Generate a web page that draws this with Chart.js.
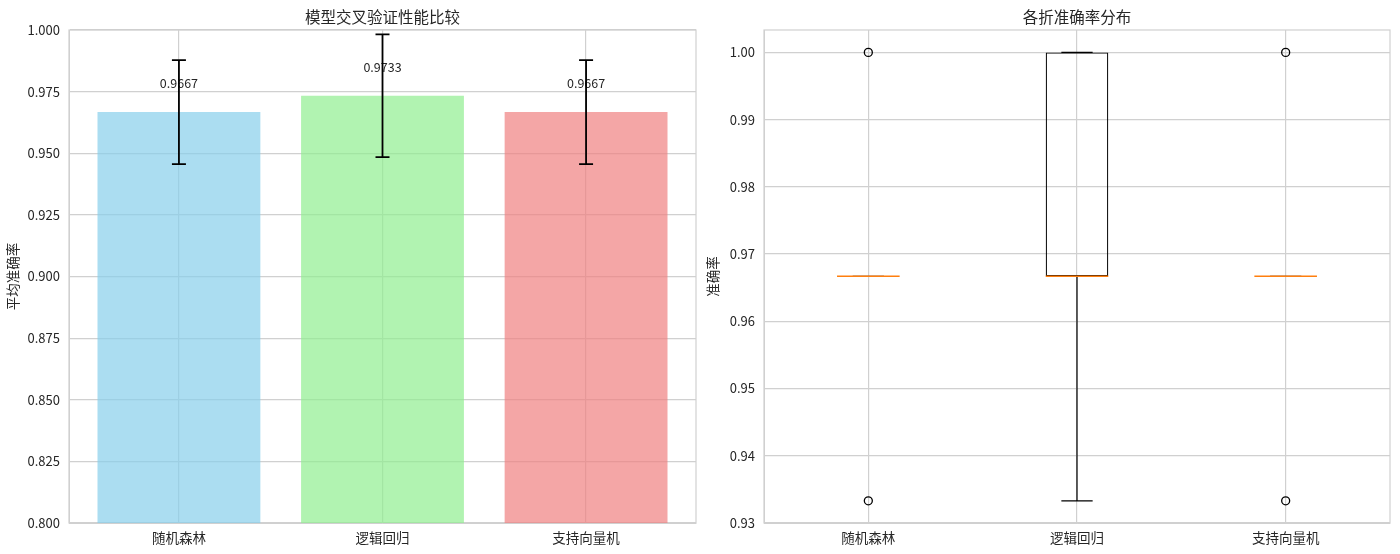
<!DOCTYPE html>
<html>
<head>
<meta charset="utf-8">
<script src="https://cdn.jsdelivr.net/npm/chart.js@4.4.1/dist/chart.umd.min.js"></script>
<style>
  body { margin: 0; background: #fff; }
  .panel { position: absolute; top: 0; width: 700px; height: 554px; }
</style>
</head>
<body>
<div class="panel" style="left:0"><canvas id="barChart"></canvas></div>
<div class="panel" style="left:700px"><canvas id="boxChart"></canvas></div>
<script>
// data
const models = ['随机森林', '逻辑回归', '支持向量机'];
const meanScores = [0.9667, 0.9733, 0.9667];
const stdScores = [0.0211, 0.0249, 0.0211];
const barColors = ['rgba(135,206,235,0.7)', 'rgba(144,238,144,0.7)', 'rgba(240,128,128,0.7)'];
const barTicks = [0.800, 0.825, 0.850, 0.875, 0.900, 0.925, 0.950, 0.975, 1.000];

const boxQ1 = [0.9667, 0.9667, 0.9667];
const boxMedian = [0.9667, 0.9667, 0.9667];
const boxQ3 = [0.9667, 1.0, 0.9667];
const whiskerLow = [0.9667, 0.9333, 0.9667];
const whiskerHigh = [0.9667, 1.0, 0.9667];
const outliers = [[1.0, 0.9333], [], [1.0, 0.9333]];
const boxTicks = [0.93, 0.94, 0.95, 0.96, 0.97, 0.98, 0.99, 1.00];

const GRID = '#d0d0d0';
const TEXT = '#262626';
const FONT = '"Noto Sans CJK SC", "Noto Sans", sans-serif';

const frame = {
    id: 'frame',
    beforeDatasetsDraw(chart) {
        const { ctx, chartArea: a } = chart;
        ctx.save();
        ctx.strokeStyle = GRID;
        ctx.lineWidth = 1.2;
        ctx.strokeRect(a.left, a.top, a.width, a.height);
        ctx.restore();
    }
};

const errorBars = {
    id: 'errorBars',
    afterDatasetsDraw(chart) {
        const { ctx } = chart;
        const x = chart.scales.x, y = chart.scales.y;
        ctx.save();
        meanScores.forEach((m, i) => {
            const px = x.getPixelForValue(i);
            const top = y.getPixelForValue(m + stdScores[i]);
            const bot = y.getPixelForValue(m - stdScores[i]);
            ctx.fillStyle = TEXT;
            ctx.font = '12.5px ' + FONT;
            ctx.textAlign = 'center';
            ctx.textBaseline = 'bottom';
            ctx.fillText(m.toFixed(4), px, y.getPixelForValue(m + 0.01) + 2);
            ctx.strokeStyle = '#000';
            ctx.lineWidth = 1.8;
            ctx.beginPath();
            ctx.moveTo(px, top); ctx.lineTo(px, bot);
            ctx.moveTo(px - 7, top); ctx.lineTo(px + 7, top);
            ctx.moveTo(px - 7, bot); ctx.lineTo(px + 7, bot);
            ctx.stroke();
        });
        ctx.restore();
    }
};

const boxParts = {
    id: 'boxParts',
    afterDatasetsDraw(chart) {
        const { ctx } = chart;
        const x = chart.scales.x, y = chart.scales.y;
        const boxes = chart.getDatasetMeta(0).data;
        ctx.save();
        ctx.lineWidth = 1.2;
        models.forEach((m, i) => {
            const px = x.getPixelForValue(i + 1);
            const half = boxes[i].width / 2;
            const cap = half / 2;
            const lo = y.getPixelForValue(whiskerLow[i]);
            const hi = y.getPixelForValue(whiskerHigh[i]);
            ctx.strokeStyle = '#000';
            ctx.beginPath();
            ctx.moveTo(px, y.getPixelForValue(boxQ1[i])); ctx.lineTo(px, lo);
            ctx.moveTo(px, y.getPixelForValue(boxQ3[i])); ctx.lineTo(px, hi);
            ctx.moveTo(px - cap, lo); ctx.lineTo(px + cap, lo);
            ctx.moveTo(px - cap, hi); ctx.lineTo(px + cap, hi);
            ctx.stroke();
            const med = y.getPixelForValue(boxMedian[i]);
            ctx.strokeStyle = '#ff7f0e';
            ctx.lineWidth = 1.5;
            ctx.beginPath();
            ctx.moveTo(px - half, med); ctx.lineTo(px + half, med);
            ctx.stroke();
            ctx.lineWidth = 1.2;
        });
        ctx.restore();
    }
};

function axisTitle(text) {
    return { display: true, text: text, color: TEXT, font: { family: FONT, size: 13.5 }, padding: { top: 5, bottom: 0 } };
}

function tickFont(size) {
    return { family: FONT, size: size };
}

new Chart(document.getElementById('barChart'), {
    type: 'bar',
    data: {
        datasets: [{
            data: meanScores.map((m, i) => ({ x: i, y: m })),
            backgroundColor: barColors,
            barPercentage: 0.8,
            categoryPercentage: 1
        }]
    },
    options: {
        responsive: true,
        maintainAspectRatio: false,
        animation: false,
        events: [],
        layout: { padding: { left: 0, right: 4, top: 0, bottom: 0 } },
        plugins: {
            legend: { display: false },
            tooltip: { enabled: false },
            title: {
                display: true, text: '模型交叉验证性能比较', fullSize: false,
                color: TEXT, font: { family: FONT, size: 15.5, weight: 'normal' },
                padding: { top: 8, bottom: 3.4 }
            }
        },
        scales: {
            x: {
                type: 'linear', min: -0.54, max: 2.54, offset: false,
                afterBuildTicks: axis => { axis.ticks = models.map((m, i) => ({ value: i })); },
                afterFit: scale => { scale.height = 31; },
                grid: { color: GRID, lineWidth: 1.2, drawTicks: false, offset: false },
                border: { color: GRID },
                ticks: { color: TEXT, font: tickFont(13.5), padding: 7, callback: v => models[v] }
            },
            y: {
                min: 0.8, max: 1.0,
                afterBuildTicks: axis => { axis.ticks = barTicks.map(v => ({ value: v })); },
                afterFit: scale => { scale.width = 69; },
                grid: { color: GRID, lineWidth: 1.2, drawTicks: false },
                border: { color: GRID },
                title: axisTitle('平均准确率'),
                ticks: { color: TEXT, font: tickFont(13), padding: 9, callback: v => v.toFixed(3) }
            }
        }
    },
    plugins: [frame, errorBars]
});

new Chart(document.getElementById('boxChart'), {
    type: 'bar',
    data: {
        datasets: [{
            data: models.map((m, i) => ({ x: i + 1, y: [boxQ1[i], boxQ3[i]] })),
            backgroundColor: 'rgba(0,0,0,0)',
            borderColor: '#000',
            borderWidth: 1.2,
            borderSkipped: false,
            barPercentage: 0.3,
            categoryPercentage: 1
        }, {
            type: 'scatter',
            data: outliers.flatMap((vals, i) => vals.map(v => ({ x: i + 1, y: v }))),
            pointRadius: 4,
            pointBorderWidth: 1.3,
            pointBorderColor: '#000',
            pointBackgroundColor: 'rgba(0,0,0,0)'
        }]
    },
    options: {
        responsive: true,
        maintainAspectRatio: false,
        animation: false,
        events: [],
        layout: { padding: { left: 0, right: 10, top: 0, bottom: 0 } },
        plugins: {
            legend: { display: false },
            tooltip: { enabled: false },
            title: {
                display: true, text: '各折准确率分布', fullSize: false,
                color: TEXT, font: { family: FONT, size: 15.5, weight: 'normal' },
                padding: { top: 8, bottom: 3.4 }
            }
        },
        scales: {
            x: {
                type: 'linear', min: 0.5, max: 3.5, offset: false,
                afterBuildTicks: axis => { axis.ticks = models.map((m, i) => ({ value: i + 1 })); },
                afterFit: scale => { scale.height = 31; },
                grid: { color: GRID, lineWidth: 1.2, drawTicks: false, offset: false },
                border: { color: GRID },
                ticks: { color: TEXT, font: tickFont(13.5), padding: 7, callback: v => models[v - 1] }
            },
            y: {
                min: 0.93, max: 1.00333,
                afterBuildTicks: axis => { axis.ticks = boxTicks.map(v => ({ value: v })); },
                afterFit: scale => { scale.width = 64; },
                grid: { color: GRID, lineWidth: 1.2, drawTicks: false },
                border: { color: GRID },
                title: axisTitle('准确率'),
                ticks: { color: TEXT, font: tickFont(13), padding: 9, callback: v => v.toFixed(2) }
            }
        }
    },
    plugins: [frame, boxParts]
});
</script>
</body>
</html>
